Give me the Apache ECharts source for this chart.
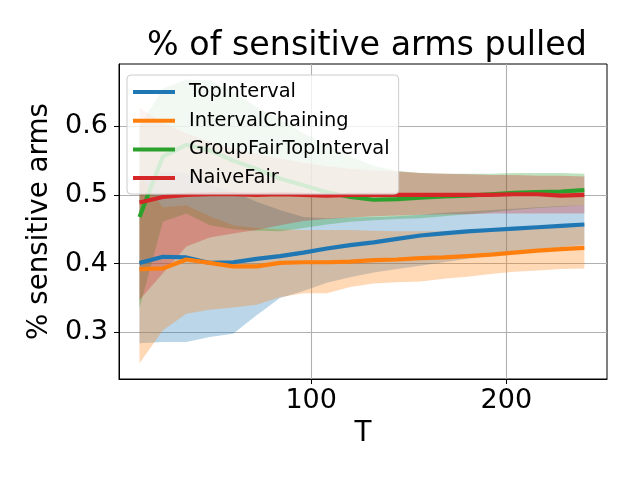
<!DOCTYPE html>
<html>
<head>
<meta charset="utf-8">
<script src="https://cdn.jsdelivr.net/npm/echarts@6/dist/echarts.min.js"></script>
<style>
html,body{margin:0;padding:0;background:#fff;}
#chart{width:640px;height:480px;}
</style>
</head>
<body>
<div id="chart"></div>
<script>
// ---- data ----
const T = [12,24,36,48,60,72,84,96,108,120,132,144,156,168,180,192,204,216,228,240];

const topIntervalMean = [0.401,0.410,0.409,0.401,0.402,0.407,0.411,0.416,0.422,0.427,0.431,0.436,0.441,0.444,0.447,0.449,0.451,0.453,0.455,0.457];
const topIntervalLow  = [0.284,0.286,0.286,0.293,0.298,0.325,0.350,0.360,0.372,0.380,0.387,0.392,0.397,0.402,0.407,0.412,0.416,0.420,0.424,0.427];
const topIntervalHigh = [0.518,0.534,0.532,0.515,0.505,0.490,0.478,0.468,0.466,0.467,0.468,0.469,0.471,0.474,0.476,0.478,0.480,0.482,0.484,0.485];

const intervalChainingMean = [0.392,0.393,0.406,0.401,0.396,0.396,0.401,0.402,0.402,0.403,0.405,0.406,0.408,0.409,0.411,0.413,0.416,0.419,0.421,0.423];
const intervalChainingLow  = [0.255,0.303,0.327,0.333,0.336,0.340,0.351,0.357,0.357,0.366,0.371,0.373,0.374,0.378,0.381,0.385,0.388,0.390,0.392,0.393];
const intervalChainingHigh = [0.529,0.482,0.485,0.469,0.456,0.452,0.450,0.449,0.449,0.449,0.448,0.447,0.447,0.447,0.448,0.449,0.450,0.452,0.454,0.455];

const groupFairMean = [0.468,0.556,0.573,0.565,0.550,0.538,0.524,0.514,0.504,0.497,0.493,0.494,0.496,0.498,0.499,0.501,0.503,0.504,0.505,0.507];
const groupFairLow  = [0.335,0.461,0.473,0.456,0.450,0.448,0.447,0.452,0.457,0.461,0.463,0.465,0.466,0.469,0.472,0.475,0.478,0.481,0.483,0.485];
const groupFairHigh = [0.600,0.655,0.668,0.667,0.650,0.628,0.610,0.590,0.573,0.556,0.543,0.535,0.532,0.531,0.531,0.531,0.532,0.532,0.532,0.531];

const naiveFairMean = [0.489,0.497,0.500,0.501,0.501,0.500,0.501,0.500,0.499,0.500,0.500,0.500,0.500,0.500,0.500,0.500,0.501,0.501,0.499,0.500];
const naiveFairLow  = [0.347,0.386,0.425,0.438,0.444,0.449,0.456,0.462,0.465,0.467,0.469,0.470,0.471,0.472,0.472,0.473,0.473,0.473,0.473,0.473];
const naiveFairHigh = [0.627,0.605,0.590,0.578,0.568,0.560,0.553,0.547,0.542,0.538,0.536,0.534,0.532,0.531,0.530,0.529,0.529,0.528,0.528,0.527];

const seriesNames = ['TopInterval','IntervalChaining','GroupFairTopInterval','NaiveFair'];
const colors = ['#1f77b4','#ff7f0e','#2ca02c','#d62728'];
const bandColors = ['rgba(31,119,180,0.3)','rgba(255,127,14,0.3)','rgba(44,160,44,0.3)','rgba(214,39,39,0.3)'];
const xTicks = [100,200];
const yTicks = [0.3,0.4,0.5,0.6];

const means = [topIntervalMean, intervalChainingMean, groupFairMean, naiveFairMean];
const lows  = [topIntervalLow, intervalChainingLow, groupFairLow, naiveFairLow];
const highs = [topIntervalHigh, intervalChainingHigh, groupFairHigh, naiveFairHigh];

const FONT = 'DejaVu Sans';

function bandSeries(idx) {
  const lo = lows[idx], hi = highs[idx];
  return {
    type: 'custom',
    name: seriesNames[idx] + ' band',
    data: T.map((t, i) => [t, lo[i], hi[i]]),
    encode: { x: 0, y: [1, 2] },
    clip: true,
    silent: true,
    z: 1,
    renderItem: function (params, api) {
      if (params.dataIndex !== 0) return null;
      const pts = [];
      for (let i = 0; i < T.length; i++) pts.push(api.coord([T[i], hi[i]]));
      for (let i = T.length - 1; i >= 0; i--) pts.push(api.coord([T[i], lo[i]]));
      return {
        type: 'polygon',
        shape: { points: pts },
        style: { fill: bandColors[idx], stroke: null }
      };
    }
  };
}

function lineSeries(idx) {
  return {
    type: 'line',
    name: seriesNames[idx],
    data: T.map((t, i) => [t, means[idx][i]]),
    showSymbol: false,
    symbol: 'none',
    lineStyle: { color: colors[idx], width: 4.2 },
    itemStyle: { color: colors[idx] },
    z: 3,
    silent: true
  };
}

const series = [];
for (let i = 0; i < 4; i++) series.push(bandSeries(i));
for (let i = 0; i < 4; i++) series.push(lineSeries(i));

const chart = echarts.init(document.getElementById('chart'), null, { renderer: 'canvas' });
chart.setOption({
  animation: false,
  backgroundColor: '#ffffff',
  textStyle: { fontFamily: FONT },
  title: {
    text: '% of sensitive arms pulled',
    left: 362,
    textAlign: 'center',
    top: 25,
    textStyle: { fontFamily: FONT, fontSize: 33.3, fontWeight: 'normal', color: '#000' }
  },
  grid: {
    left: 119, right: 33, top: 64, bottom: 101,
    containLabel: false,
    outerBoundsMode: 'none',
    show: true,
    borderColor: '#000',
    borderWidth: 1,
    backgroundColor: 'transparent'
  },
  legend: {
    data: seriesNames,
    orient: 'vertical',
    left: 127,
    top: 75,
    width: 274,
    padding: [7, 9, 6, 6],
    itemWidth: 42,
    itemHeight: 4,
    itemGap: 8.7,
    icon: 'rect',
    backgroundColor: 'rgba(255,255,255,0.8)',
    borderColor: '#cccccc',
    borderWidth: 1,
    borderRadius: 4,
    z: 10,
    selectedMode: false,
    textStyle: { fontFamily: FONT, fontSize: 19.4, color: '#000', lineHeight: 20, padding: [0, 0, 0, 9] }
  },
  xAxis: {
    type: 'value',
    min: 1.5,
    max: 251.6,
    name: 'T',
    nameLocation: 'middle',
    nameGap: 41,
    nameTextStyle: { fontFamily: FONT, fontSize: 27.8, color: '#000' },
    axisLine: { show: true, onZero: false, lineStyle: { color: '#000', width: 1 } },
    axisTick: { show: true, inside: false, length: 5, customValues: xTicks, lineStyle: { color: '#000', width: 1 } },
    axisLabel: { show: true, customValues: xTicks, margin: 8, fontFamily: FONT, fontSize: 27, color: '#000' },
    splitLine: { show: true, lineStyle: { color: '#b0b0b0', width: 1.1 } }
  },
  yAxis: {
    type: 'value',
    min: 0.232,
    max: 0.6907,
    name: '% sensitive arms',
    nameLocation: 'middle',
    nameGap: 62,
    nameTextStyle: { fontFamily: FONT, fontSize: 27.8, color: '#000' },
    axisLine: { show: true, onZero: false, lineStyle: { color: '#000', width: 1 } },
    axisTick: { show: true, inside: false, length: 5, customValues: yTicks, lineStyle: { color: '#000', width: 1 } },
    axisLabel: { show: true, customValues: yTicks, margin: 11, fontFamily: FONT, fontSize: 27, color: '#000',
      formatter: function (v) { return v.toFixed(1); } },
    splitLine: { show: true, lineStyle: { color: '#b0b0b0', width: 1.1 } }
  },
  series: series
});
</script>
</body>
</html>
